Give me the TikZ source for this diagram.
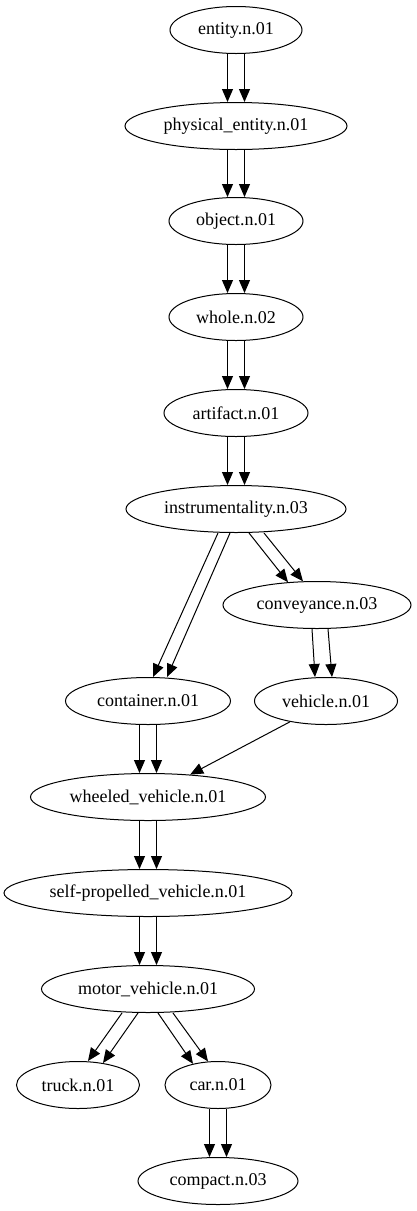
\documentclass[tikz,border=0pt]{standalone}
\usepackage{fontspec}
\setmainfont{Liberation Serif}
\usepackage{tikz}
\usetikzlibrary{arrows.meta, shapes.geometric}

\begin{document}
\begin{tikzpicture}[
      x=1pt, y=-1pt,
      syn/.style={draw, ellipse, line width=1pt, inner sep=0pt, minimum height=47pt},
      arrow/.style={-{Triangle[length=13pt, width=11pt]}, line width=1pt},
      every node/.style={font=\fontsize{18}{20}\selectfont}
    ]
    \useasboundingbox (0,0) rectangle (417,1211);

    % Nodes
    \node[syn, minimum width=132pt] (entity) at (236, 30) {entity.n.01};
    \node[syn, minimum width=222pt] (physical) at (236, 126) {physical\_entity.n.01};
    \node[syn, minimum width=134pt] (object) at (236, 221) {object.n.01};
    \node[syn, minimum width=134pt] (whole) at (236, 317) {whole.n.02};
    \node[syn, minimum width=144pt] (artifact) at (236, 413) {artifact.n.01};
    \node[syn, minimum width=220pt] (instrument) at (236, 509) {instrumentality.n.03};
    \node[syn, minimum width=188pt] (conveyance) at (317, 605) {conveyance.n.03};
    \node[syn, minimum width=165pt] (container) at (148, 701) {container.n.01};
    \node[syn, minimum width=143pt] (vehicle) at (326, 701) {vehicle.n.01};
    \node[syn, minimum width=235pt] (wheeled) at (148, 797) {wheeled\_vehicle.n.01};
    \node[syn, minimum width=288pt] (selfprop) at (148, 893) {self-propelled\_vehicle.n.01};
    \node[syn, minimum width=213pt] (motor) at (148, 989) {motor\_vehicle.n.01};
    \node[syn, minimum width=123pt] (truck) at (78, 1085) {truck.n.01};
    \node[syn, minimum width=106pt] (car) at (218, 1085) {car.n.01};
    \node[syn, minimum width=160pt] (compact) at (218, 1181) {compact.n.03};

    % Arrows (straight pairs)
    \foreach \a/\b in {entity/physical, physical/object, object/whole, whole/artifact,
                       artifact/instrument, container/wheeled, wheeled/selfprop,
                       selfprop/motor, car/compact} {
      \draw[arrow] ([xshift=-8.5pt]\a.south) -- ([xshift=-8.5pt]\b.north);
      \draw[arrow] ([xshift=8.5pt]\a.south) -- ([xshift=8.5pt]\b.north);
    }

    % Arrows (slanted pairs)
    \draw[arrow] ([xshift=-18pt]instrument.south) -- ([xshift=5pt]container.north);
    \draw[arrow] ([xshift=-6pt]instrument.south) -- ([xshift=19pt]container.north);
    \draw[arrow] ([xshift=13pt]instrument.south) -- ([xshift=-29pt, yshift=-1.2pt]conveyance.north);
    \draw[arrow] ([xshift=28pt]instrument.south) -- ([xshift=-14pt, yshift=-0.3pt]conveyance.north);
    \draw[arrow] ([xshift=-5pt]conveyance.south) -- ([xshift=-11pt]vehicle.north);
    \draw[arrow] ([xshift=11pt]conveyance.south) -- ([xshift=6pt]vehicle.north);
    \draw[arrow] (vehicle.210) -- (wheeled.28);
    \draw[arrow] ([xshift=-26pt]motor.south) -- ([xshift=10pt]truck.north);
    \draw[arrow] ([xshift=-10pt]motor.south) -- ([xshift=25pt, yshift=-2pt]truck.north);
    \draw[arrow] ([xshift=10pt]motor.south) -- ([xshift=-25pt, yshift=-2.8pt]car.north);
    \draw[arrow] ([xshift=25pt]motor.south) -- ([xshift=-10pt, yshift=-0.4pt]car.north);

\end{tikzpicture}
\end{document}
